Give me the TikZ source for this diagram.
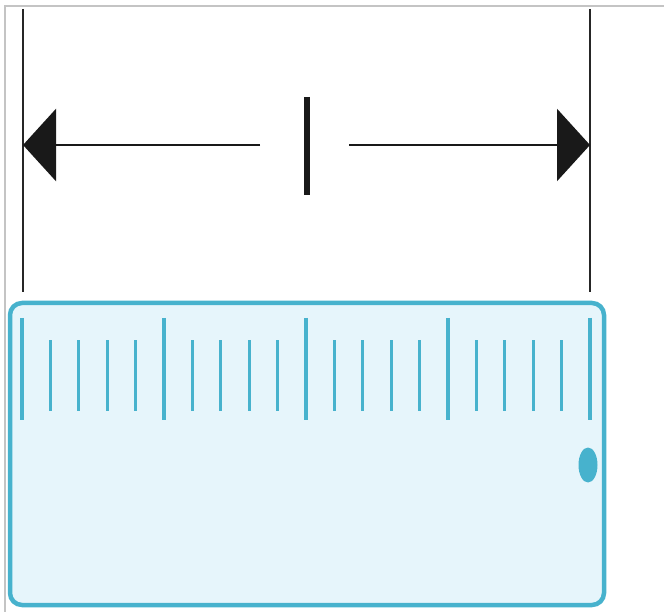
\documentclass[tikz,border=0pt]{standalone}
\usetikzlibrary{arrows.meta}
\definecolor{rulerblue}{HTML}{47B2CD}
\definecolor{rulerfill}{HTML}{E6F5FB}
\definecolor{framegray}{HTML}{C4C4C4}
\tikzset{
  guide/.style={draw=black!85, line width=1.3pt},
  dimline/.style={draw=black!90, line width=2.8pt, -{Triangle[length=33pt,width=72pt]}},
  longtick/.style={draw=rulerblue, line width=4pt},
  shorttick/.style={draw=rulerblue, line width=3pt},
}
\begin{document}
\begin{tikzpicture}[x=1pt,y=-1pt]
\useasboundingbox (0,0) rectangle (664,612);
% frame
\draw[framegray, line width=1.5pt] (5,612) -- (5,6) -- (664,6);
% guides
\coordinate (gl1) at (23,9); \coordinate (gl2) at (23,292);
\coordinate (gr1) at (590,9); \coordinate (gr2) at (590,292);
\draw[guide] (gl1) -- (gl2);
\draw[guide] (gr1) -- (gr2);
% dimension arrows
\coordinate (la) at (260,145); \coordinate (lt) at (23,145);
\coordinate (ra) at (349,145); \coordinate (rt) at (590,145);
\draw[dimline] (la) -- (lt);
\draw[dimline] (ra) -- (rt);
\coordinate (m1) at (306.5,97); \coordinate (m2) at (306.5,195);
\draw[black!90, line width=6pt] (m1) -- (m2);
% ruler
\draw[rulerblue, fill=rulerfill, line width=4.5pt, rounded corners=12pt] (10,303) rectangle (604,605);
\foreach \i in {0,...,4} {
  \draw[longtick] ({22+142*\i},318) -- ({22+142*\i},420);
}
\foreach \i in {0,...,3} {
  \foreach \j in {1,...,4} {
    \draw[shorttick] ({22+142*\i+28.4*\j},340) -- ({22+142*\i+28.4*\j},411);
  }
}
\fill[rulerblue] (588,465) ellipse [x radius=9.5pt, y radius=17.5pt];
\end{tikzpicture}
\end{document}
